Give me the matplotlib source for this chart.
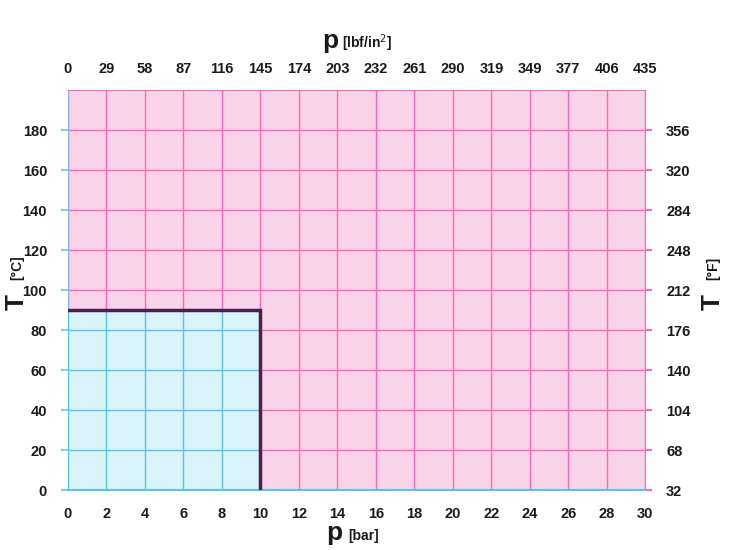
import numpy as np
import matplotlib as mpl
import matplotlib.pyplot as plt

plt.rcParams['font.family'] = ['Liberation Sans', 'DejaVu Sans']

# data
bar_ticks = list(range(0, 31, 2))
psi_labels = ['0', '29', '58', '87', '116', '145', '174', '203', '232', '261',
              '290', '319', '349', '377', '406', '435']
degc_ticks = list(range(0, 181, 20))
degf_labels = ['32', '68', '104', '140', '176', '212', '248', '284', '320', '356']
p_max = 10.0     # bar
t_max = 90.0     # °C

pink_bg = '#f9d3e8'
pink_line = '#ff66b8'
blue_bg = '#d8f3fa'
blue_line = '#5cc4dc'
edge = '#4a1e4e'

fig = plt.figure(figsize=(7.3, 5.5), dpi=100)
ax = fig.add_axes([0.093, 0.109, 0.791, 0.727])
ax.set_xlim(0, 30)
ax.set_ylim(0, 200)
ax.set_facecolor(pink_bg)

# pink grid
for x in bar_ticks:
    ax.axvline(x, color=pink_line, lw=1, zorder=1)
for y in degc_ticks:
    ax.axhline(y, color=pink_line, lw=1, zorder=1)

# operating range
ax.fill_between([0, p_max], 0, t_max, color=blue_bg, zorder=2, lw=0)
for x in bar_ticks:
    if x <= p_max:
        ax.plot([x, x], [0, t_max], color=blue_line, lw=1, zorder=3)
for y in degc_ticks:
    if y <= t_max:
        ax.plot([0, p_max], [y, y], color=blue_line, lw=1, zorder=3)
ax.plot([0, p_max, p_max], [t_max, t_max, 0], color=edge, lw=2.5, zorder=4,
        solid_joinstyle='miter')

for s in ['top', 'right']:
    ax.spines[s].set_color(pink_line)
ax.spines['bottom'].set_color(blue_line)
ax.spines['left'].set_color('#8ab4e8')
ax.spines['bottom'].set_linewidth(1.5)

lab = dict(fontsize=10.5, fontweight='bold', color='#1a1a1a')

ax.set_xticks(bar_ticks)
ax.set_xticklabels([str(v) for v in bar_ticks], **lab)
ax.tick_params(axis='x', length=0, pad=12)
ax.set_yticks(degc_ticks)
ax.set_yticklabels([str(v) for v in degc_ticks], **lab)
ax.tick_params(axis='y', length=5, color='#7fd0ec', width=1.5, pad=10)

top = ax.twiny()
top.set_xlim(ax.get_xlim())
top.set_xticks(bar_ticks)
top.set_xticklabels(psi_labels, **lab)
top.tick_params(axis='x', length=0, pad=10)

right = ax.twinx()
right.set_ylim(ax.get_ylim())
right.set_yticks(degc_ticks)
right.set_yticklabels(degf_labels, **lab)
right.tick_params(axis='y', length=5, color=pink_line, width=1.5, pad=10)
for a in (top, right):
    for s in a.spines.values():
        s.set_visible(False)

# axis titles
big = dict(fontsize=19, fontweight='bold', color='#1a1a1a')
small = dict(fontsize=10, fontweight='bold', color='#1a1a1a')
fig.text(334 / 730, 1 - 540 / 550, 'p', ha='center', va='baseline', **big)
fig.text(348 / 730, 1 - 540 / 550, '[bar]', ha='left', va='baseline', **small)
fig.text(330 / 730, 1 - 48 / 550, 'p', ha='center', va='baseline', **big)
fig.text(342 / 730, 1 - 48 / 550, '[lbf/in$^2$]', ha='left', va='baseline', **small)
fig.text(17 / 730, 1 - 302 / 550, 'T', rotation=90, ha='center', va='center', **big)
fig.text(17 / 730, 1 - 268 / 550, '[°C]', rotation=90, ha='center', va='center', **small)
fig.text(713 / 730, 1 - 302 / 550, 'T', rotation=90, ha='center', va='center', **big)
fig.text(713 / 730, 1 - 268 / 550, '[°F]', rotation=90, ha='center', va='center', **small)

plt.savefig('out.png', dpi=100)
